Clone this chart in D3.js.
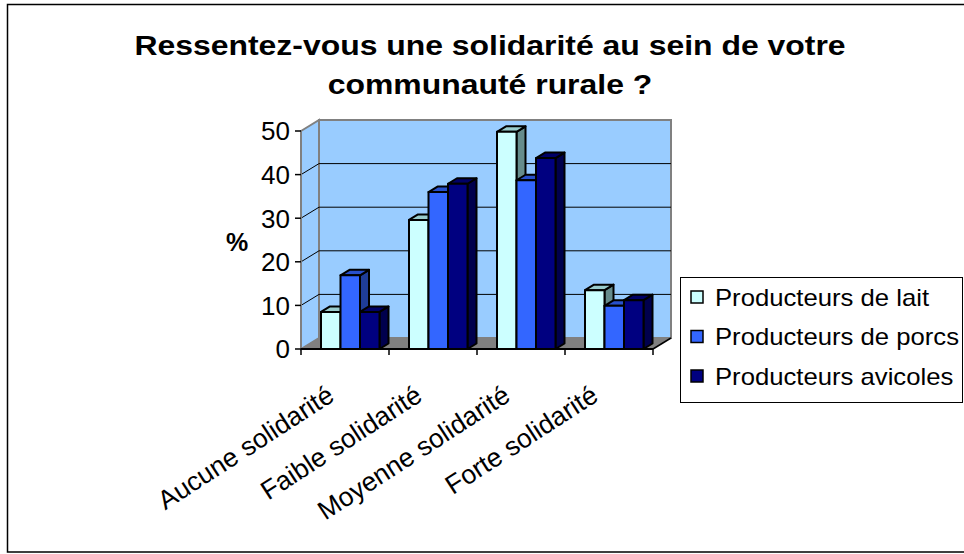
<!DOCTYPE html>
<html>
<head>
<meta charset="utf-8">
<script src="https://cdnjs.cloudflare.com/ajax/libs/d3/7.8.5/d3.min.js"></script>
<style>
    body { margin: 0; background: #fff; }
    text { font-family: "Liberation Sans", Arial, sans-serif; }
</style>
</head>
<body>
<div id="vis"></div>
<script>
var categories = ["Aucune solidarité", "Faible solidarité", "Moyenne solidarité", "Forte solidarité"];
var seriesNames = ["Producteurs de lait", "Producteurs de porcs", "Producteurs avicoles"];
var lait = [8.5, 29.6, 49.8, 13.5];
var porcs = [16.9, 36.0, 38.7, 9.9];
var avicoles = [8.5, 37.9, 43.8, 11.2];
var yTicks = [0, 10, 20, 30, 40, 50];
var titleLines = ["Ressentez-vous une solidarité au sein de votre", "communauté rurale ?"];

var allSeries = [lait, porcs, avicoles];
var colors = [
    { front: "#ccffff", top: "#99cccc", side: "#668c8c" },
    { front: "#3366ff", top: "#2850cc", side: "#1f3d99" },
    { front: "#000080", top: "#000066", side: "#00004d" }
];

var width = 964, height = 554;

// front plane of the 3D box
var left = 301, right = 653;
var depthX = 18, depthY = -11;
var barDX = 9, barDY = -5.5;

var svg = d3.select("#vis").append("svg")
    .attr("width", width)
    .attr("height", height);

// outer frame
svg.append("rect")
    .attr("x", 7.5).attr("y", 4.5)
    .attr("width", 962).attr("height", 547.5)
    .attr("fill", "none")
    .attr("stroke", "#000")
    .attr("stroke-width", 1.5);

// title (the original text is a bit wider than Arial)
svg.append("g")
    .attr("transform", "translate(490,0) scale(1.14,1)")
    .selectAll("text")
    .data(titleLines)
    .enter().append("text")
    .attr("x", 0)
    .attr("y", function(d, i) { return 55 + i * 39.5; })
    .attr("text-anchor", "middle")
    .style("font-weight", "bold")
    .style("font-size", "28px")
    .text(function(d) { return d; });

var xScale = d3.scaleBand().domain(categories).range([left, right]);
var xInner = d3.scaleBand().domain(d3.range(seriesNames.length)).range([20, 78.5]);
var yScale = d3.scaleLinear().domain([0, 50]).range([349, 131]);

var pts = function(a) {
    return a.map(function(p) { return p.join(","); }).join(" ");
};

var y0 = yScale(0), yTop = yScale(50);

// walls and floor
svg.append("polygon")
    .attr("points", pts([[left + depthX, yTop + depthY], [right + depthX, yTop + depthY], [right + depthX, y0 + depthY], [left + depthX, y0 + depthY]]))
    .attr("fill", "#99ccff")
    .attr("stroke", "#808080")
    .attr("stroke-width", 2);

svg.append("polygon")
    .attr("points", pts([[left, yTop], [left + depthX, yTop + depthY], [left + depthX, y0 + depthY], [left, y0]]))
    .attr("fill", "#99ccff")
    .attr("stroke", "#808080")
    .attr("stroke-width", 2);

svg.append("polygon")
    .attr("points", pts([[left, y0], [right, y0], [right + depthX, y0 + depthY], [left + depthX, y0 + depthY]]))
    .attr("fill", "#808080");

// gridlines on the walls
var grid = svg.append("g");
yTicks.filter(function(d) { return d > 0 && d < 50; }).forEach(function(t) {
    grid.append("polyline")
        .attr("points", pts([[left, yScale(t)], [left + depthX, yScale(t) + depthY], [right + depthX, yScale(t) + depthY]]))
        .attr("fill", "none")
        .attr("stroke", "#000")
        .attr("stroke-width", 1);
});

// y axis
var yAxis = svg.append("g");
yAxis.append("line")
    .attr("x1", left).attr("x2", left)
    .attr("y1", yTop).attr("y2", y0)
    .attr("stroke", "#808080").attr("stroke-width", 2);
yAxis.selectAll(".tick")
    .data(yTicks)
    .enter().append("line")
    .attr("x1", left - 6).attr("x2", left)
    .attr("y1", function(d) { return yScale(d); })
    .attr("y2", function(d) { return yScale(d); })
    .attr("stroke", "#000").attr("stroke-width", 1.5);
yAxis.selectAll("text")
    .data(yTicks)
    .enter().append("text")
    .attr("x", 290)
    .attr("y", function(d) { return yScale(d); })
    .attr("dy", "0.36em")
    .attr("text-anchor", "end")
    .style("font-size", "26px")
    .text(function(d) { return d; });

svg.append("text")
    .attr("x", 237).attr("y", 242)
    .attr("dy", "0.36em")
    .attr("text-anchor", "middle")
    .style("font-weight", "bold")
    .style("font-size", "25px")
    .text("%");

// bars: side, top and front faces
var bars = svg.append("g");
categories.forEach(function(cat, ci) {
    allSeries.forEach(function(values, si) {
        var x = xScale(cat) + xInner(si);
        var w = xInner.bandwidth();
        var yv = yScale(values[ci]);
        var c = colors[si];
        var g = bars.append("g")
            .attr("stroke", "#000")
            .attr("stroke-width", 2)
            .attr("stroke-linejoin", "round");
        g.append("polygon")
            .attr("points", pts([[x + w, yv], [x + w + barDX, yv + barDY], [x + w + barDX, y0 + barDY], [x + w, y0]]))
            .attr("fill", c.side);
        g.append("polygon")
            .attr("points", pts([[x, yv], [x + barDX, yv + barDY], [x + w + barDX, yv + barDY], [x + w, yv]]))
            .attr("fill", c.top);
        g.append("rect")
            .attr("x", x).attr("y", yv)
            .attr("width", w).attr("height", y0 - yv)
            .attr("fill", c.front);
    });
});

// x axis
var xAxis = svg.append("g");
xAxis.append("line")
    .attr("x1", left).attr("x2", right)
    .attr("y1", y0).attr("y2", y0)
    .attr("stroke", "#000").attr("stroke-width", 2);
xAxis.append("line")
    .attr("x1", right).attr("x2", right + depthX)
    .attr("y1", y0).attr("y2", y0 + depthY)
    .attr("stroke", "#000").attr("stroke-width", 1.5);
xAxis.selectAll(".tick")
    .data(categories.concat(["end"]))
    .enter().append("line")
    .attr("x1", function(d, i) { return i < categories.length ? xScale(d) : right; })
    .attr("x2", function(d, i) { return i < categories.length ? xScale(d) : right; })
    .attr("y1", y0).attr("y2", y0 + 6)
    .attr("stroke", "#000").attr("stroke-width", 1.5);
xAxis.selectAll("text")
    .data(categories)
    .enter().append("text")
    .attr("transform", function(d) {
        return "translate(" + (xScale(d) + xScale.bandwidth() / 2 - 20) + "," + 383 + ") rotate(-33)";
    })
    .attr("dy", "0.75em")
    .attr("text-anchor", "end")
    .style("font-size", "26.5px")
    .text(function(d) { return d; });

// legend
var legend = svg.append("g");
legend.append("rect")
    .attr("x", 680.5).attr("y", 277.5)
    .attr("width", 282).attr("height", 125)
    .attr("fill", "#fff")
    .attr("stroke", "#000")
    .attr("stroke-width", 1);
var items = legend.selectAll(".item")
    .data(seriesNames)
    .enter().append("g")
    .attr("transform", function(d, i) { return "translate(0," + (291 + i * 39.5) + ")"; });
items.append("rect")
    .attr("x", 691).attr("y", 0)
    .attr("width", 12).attr("height", 12)
    .attr("fill", function(d, i) { return colors[i].front; })
    .attr("stroke", "#000")
    .attr("stroke-width", 1.5);
items.append("text")
    .attr("transform", "translate(715,6) scale(1.07,1)")
    .attr("dy", "0.36em")
    .style("font-size", "24px")
    .text(function(d) { return d; });
</script>
</body>
</html>
